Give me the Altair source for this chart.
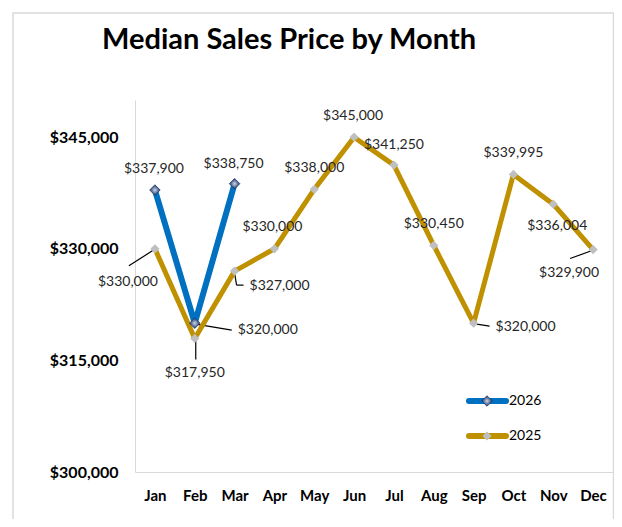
import altair as alt
import pandas as pd

months = ["Jan", "Feb", "Mar", "Apr", "May", "Jun", "Jul", "Aug", "Sep", "Oct", "Nov", "Dec"]
months_2026 = ["Jan", "Feb", "Mar"]
values_2026 = [337900, 320000, 338750]
values_2025 = [330000, 317950, 327000, 330000, 338000, 345000, 341250, 330450, 320000, 339995, 336004, 329900]
y_ticks = [300000, 315000, 330000, 345000]
title_text = "Median Sales Price by Month"

FONT = "Lato"
C2026 = "#0070C0"
C2025 = "#BF9000"

df = pd.DataFrame(
    [{"series": "2025", "month": m, "value": v} for m, v in zip(months, values_2025)]
    + [{"series": "2026", "month": m, "value": v} for m, v in zip(months_2026, values_2026)]
)

x_enc = alt.X("month:O", sort=months,
              scale=alt.Scale(type="point", domain=months, padding=0.5),
              axis=alt.Axis(title=None, labelAngle=0, ticks=False, domainColor="#D9D9D9",
                            domainWidth=1, labelFont=FONT, labelFontSize=15, labelFontWeight="bold",
                            labelColor="#000000", labelPadding=16, grid=False))
y_enc = alt.Y("value:Q", scale=alt.Scale(domain=[300000, 350000], nice=False, zero=False),
              axis=alt.Axis(title=None, values=y_ticks, format="$,.0f", ticks=False, grid=False,
                            domainColor="#D9D9D9", domainWidth=1, labelFont=FONT, labelFontSize=16,
                            labelFontWeight="bold", labelColor="#000000", labelPadding=17))

base = alt.Chart(df).encode(x=x_enc, y=y_enc)

s25 = base.transform_filter(alt.datum.series == "2025")
s26 = base.transform_filter(alt.datum.series == "2026")

blue_marker_fill = alt.RadialGradient(
    gradient="radial",
    stops=[alt.GradientStop(offset=0, color="#D8DEEA"),
           alt.GradientStop(offset=0.5, color="#6F82AA"),
           alt.GradientStop(offset=1, color="#263E6B")])

line25 = s25.mark_line(color=C2025, strokeWidth=5, strokeCap="round", strokeJoin="round")
pts25 = s25.mark_point(shape="diamond", size=85, filled=True, color="#BFBFBF", opacity=1)
line26 = s26.mark_line(color=C2026, strokeWidth=6, strokeCap="round", strokeJoin="round")
pts26 = s26.mark_point(shape="diamond", size=110, filled=True, opacity=1,
                       fill=blue_marker_fill, stroke="#1F3864", strokeWidth=0.8)

# label placement styles: (series, month, dx, dy, align)
label_styles = [
    ("2026", "Jan", -1, -21, "center"),
    ("2026", "Feb", 43, 7, "left"),
    ("2026", "Mar", -1, -20, "center"),
    ("2025", "Jan", -27, 33, "center"),
    ("2025", "Feb", 0, 35, "center"),
    ("2025", "Mar", 15, 15, "left"),
    ("2025", "Apr", -2, -22, "center"),
    ("2025", "May", 0, -21, "center"),
    ("2025", "Jun", -1, -21, "center"),
    ("2025", "Jul", 0, -20, "center"),
    ("2025", "Aug", 0, -21, "center"),
    ("2025", "Sep", 22, 4, "left"),
    ("2025", "Oct", 0, -21, "center"),
    ("2025", "Nov", 4, 22, "center"),
    ("2025", "Dec", -24, 23, "center"),
]

# leader lines: (series, month, xOff, yOff, x2Off, y2Off)
leader_styles = [
    ("2026", "Feb", 1, 1, 37, 7),
    ("2025", "Jan", -1, 1, -26, 17),
    ("2025", "Feb", 1, 2, 1, 21),
    ("2025", "Mar", 0, 2, 2, 14),
    ("2025", "Mar", 2, 14, 9, 14),
    ("2025", "Sep", 3, 1, 16, 3),
    ("2025", "Dec", -1, 1, -23, 9),
]

one = pd.DataFrame({"k": [0]})
layers = []

frame = alt.Chart(one).mark_rect(
    fill="white", fillOpacity=0, stroke="#D9D9D9", strokeWidth=1.5
).encode(x=alt.value(-122), x2=alt.value(478.5), y=alt.value(-87), y2=alt.value(440))
layers.append(frame)

title = alt.Chart(pd.DataFrame({"t": [title_text]})).mark_text(
    font=FONT, fontSize=29, fontWeight="bold", color="#000000", align="left", baseline="alphabetic"
).encode(x=alt.value(-33), y=alt.value(-51), text="t:N")
layers.append(title)

for s, m, xo, yo, x2o, y2o in leader_styles:
    layers.append(
        alt.Chart(df).transform_filter((alt.datum.series == s) & (alt.datum.month == m))
        .mark_rule(color="#000000", strokeWidth=1.2, xOffset=xo, yOffset=yo, x2Offset=x2o, y2Offset=y2o)
        .encode(x=x_enc, y=y_enc, x2="month:O", y2="value:Q")
    )

layers += [line25, pts25, line26, pts26]

for s, m, dx, dy, al in label_styles:
    layers.append(
        alt.Chart(df).transform_filter((alt.datum.series == s) & (alt.datum.month == m))
        .mark_text(font=FONT, fontSize=14, color="#262626", dx=dx, dy=dy, align=al, baseline="middle")
        .encode(x=x_enc, y=y_enc, text=alt.Text("value:Q", format="$,.0f"))
    )

# legend
leg_df = pd.DataFrame({"series": ["2026", "2025"]})
leg_y = {"2026": 301, "2025": 336}
for s, col in [("2026", C2026), ("2025", C2025)]:
    d = alt.Chart(leg_df).transform_filter(alt.datum.series == s)
    layers.append(d.mark_rule(color=col, strokeWidth=6, strokeCap="round").encode(
        x=alt.value(334), x2=alt.value(371), y=alt.value(leg_y[s])))
    if s == "2025":
        layers.append(d.mark_point(shape="diamond", size=85, filled=True, color="#BFBFBF", opacity=1).encode(
            x=alt.value(352), y=alt.value(leg_y[s])))
    else:
        layers.append(d.mark_point(shape="diamond", size=110, filled=True, opacity=1,
                                   fill=blue_marker_fill, stroke="#1F3864", strokeWidth=0.8).encode(
            x=alt.value(352), y=alt.value(leg_y[s])))
    layers.append(d.mark_text(font=FONT, fontSize=14, color="#000000", align="left", baseline="middle").encode(
        x=alt.value(374), y=alt.value(leg_y[s]), text="series:N"))

chart = alt.layer(*layers).properties(
    width=478, height=372,
    background="white",
    autosize=alt.AutoSizeParams(type="none"),
    padding={"left": 127, "top": 92, "right": 1, "bottom": 47},
).configure_view(stroke="transparent", strokeWidth=0)

chart.save("out.html", embed_options={"renderer": "svg", "actions": False})
